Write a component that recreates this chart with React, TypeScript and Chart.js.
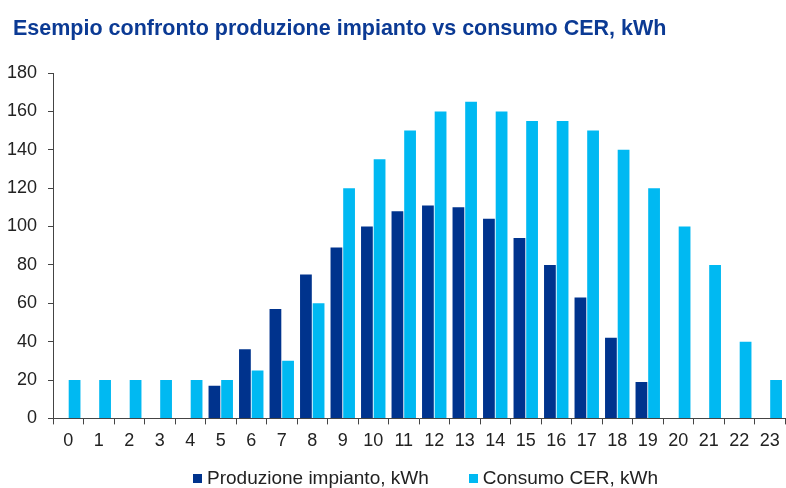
import React, { useEffect, useRef } from "react";
import { Chart, registerables } from "chart.js";

Chart.register(...registerables);

const hours = ["0","1","2","3","4","5","6","7","8","9","10","11","12","13","14","15","16","17","18","19","20","21","22","23"];
const produzione = [0,0,0,0,0,17,36,57,75,89,100,108,111,110,104,94,80,63,42,19,0,0,0,0];
const consumo = [20,20,20,20,20,20,25,30,60,120,135,150,160,165,160,155,155,150,140,120,100,80,40,20];
const yTicks = [0,20,40,60,80,100,120,140,160,180];
const seriesNames = ["Produzione impianto, kWh", "Consumo CER, kWh"];
const seriesColors = ["#00338D", "#00B9F2"];
const titleText = "Esempio confronto produzione impianto vs consumo CER, kWh";

const FONT = "'Liberation Sans', Arial, sans-serif";

export default function App() {
  const ref = useRef<HTMLCanvasElement | null>(null);
  useEffect(() => {
    if (!ref.current) return;
    const font = { family: FONT, size: 18 };
    const chart = new Chart(ref.current, {
      type: "bar",
      data: {
        labels: hours,
        datasets: [
          { label: seriesNames[0], data: produzione, backgroundColor: seriesColors[0], borderWidth: 0 },
          { label: seriesNames[1], data: consumo, backgroundColor: seriesColors[1], borderWidth: 0 },
        ],
      },
      options: {
        animation: false,
        responsive: false,
        maintainAspectRatio: false,
        layout: { padding: { left: 7, right: 1, top: 73, bottom: 30 } },
        datasets: { bar: { categoryPercentage: 0.83, barPercentage: 0.93 } },
        plugins: {
          title: { display: false },
          legend: { display: false },
          tooltip: { enabled: false },
        },
        scales: {
          x: {
            grid: { display: true, drawOnChartArea: false, drawTicks: true, tickLength: 6, color: "#444", offset: true },
            border: { display: true, color: "#444", width: 1 },
            ticks: { color: "#222", font, padding: 6, maxRotation: 0, autoSkip: false },
          },
          y: {
            min: 0,
            max: 180,
            afterBuildTicks: (s: any) => { s.ticks = yTicks.map((v) => ({ value: v })); },
            afterFit: (s: any) => { s.width = 46; },
            grid: { display: true, drawOnChartArea: false, drawTicks: true, tickLength: 5, color: "#444" },
            border: { display: true, color: "#444", width: 1 },
            ticks: { color: "#222", font, padding: 11 },
          },
        },
      },
    });
    return () => chart.destroy();
  }, []);
  return (
    <div style={{ position: "fixed", left: 0, top: 0, width: 786, height: 488, background: "#fff", overflow: "hidden" }}>
      <div style={{ position: "absolute", left: 13, top: 15, fontFamily: FONT, fontSize: 21.5, fontWeight: "bold", lineHeight: "26px", color: "#0B3A94", whiteSpace: "nowrap" }}>{titleText}</div>
      <canvas ref={ref} width={786} height={488} style={{ width: 786, height: 488, display: "block" }} />
      <div style={{ position: "absolute", left: 193, top: 466, height: 24, display: "flex", alignItems: "center", gap: 40, fontFamily: FONT, fontSize: 19, color: "#222", lineHeight: "24px", whiteSpace: "nowrap" }}>
        {seriesNames.map((n, i) => (
          <div key={n} style={{ display: "flex", alignItems: "center" }}>
            <span style={{ display: "inline-block", width: 9, height: 9, background: seriesColors[i], marginRight: 5 }} />
            <span>{n}</span>
          </div>
        ))}
      </div>
    </div>
  );
}
